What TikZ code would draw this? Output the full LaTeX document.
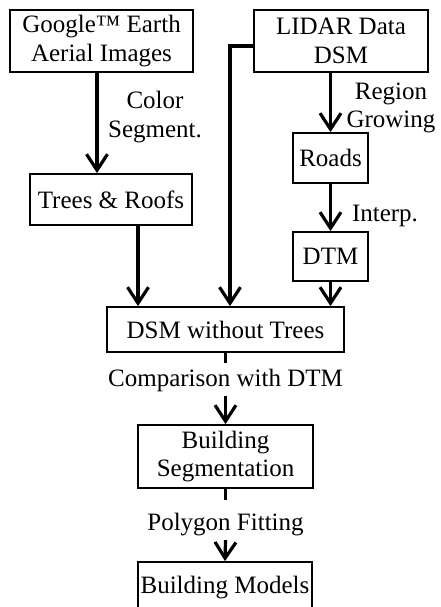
\documentclass[tikz,border=0pt]{standalone}
\usepackage{fontspec}
\setmainfont{Liberation Serif}
\usetikzlibrary{arrows.meta}

\begin{document}
\begin{tikzpicture}[x=1pt, y=-1pt,
    box/.style={draw, line width=1.8pt, inner sep=0pt, align=center,
      font=\fontsize{25}{28.5}\selectfont},
    lbl/.style={align=center, inner sep=0pt, font=\fontsize{25}{28.5}\selectfont},
    arr/.style={line width=3.2pt, -{Straight Barb[length=16pt, width=21pt]}},
    stub/.style={line width=3.2pt}]
    \useasboundingbox (0,0) rectangle (440,607);
    \clip (0,0) rectangle (440,607);

    % sources
    \node[box, minimum width=183pt, minimum height=62pt] (google) at (101.5,41) {Google™ Earth\\Aerial Images};
    \node[box, minimum width=174pt, minimum height=62pt] (lidar) at (341,41) {LIDAR Data\\DSM};

    % intermediate results
    \node[box, minimum width=162pt, minimum height=51pt] (trees) at (111,199.5) {Trees \& Roofs};
    \node[box, minimum width=75pt, minimum height=50pt] (roads) at (330.5,158) {Roads};
    \node[box, minimum width=75pt, minimum height=49pt] (dtm) at (330.5,256.5) {DTM};
    \node[box, minimum width=237pt, minimum height=45pt] (dsmnt) at (225.5,329.5) {DSM without Trees};
    \node[box, minimum width=175pt, minimum height=63pt] (seg) at (225.5,456.5) {Building\\Segmentation};
    \node[box, minimum width=174pt, minimum height=52pt] (models) at (225,588) {Building Models};

    % step labels
    \node[lbl] (color) at (155,117) {Color\\Segment.};
    \node[lbl] (grow) at (391,108) {Region\\Growing};
    \node[lbl] (interp) at (385,216) {Interp.};
    \node[lbl, inner ysep=4pt] (cmp) at (225.5,380) {Comparison with DTM};
    \node[lbl, inner ysep=4pt] (fit) at (225.5,524.5) {Polygon Fitting};

    % connectors
    \draw[arr] (google.south -| 97,0) -- (trees.north -| 97,0);
    \draw[arr] (lidar.south -| roads.north) -- (roads.north);
    \draw[arr] (roads.south) -- (dtm.north);
    \draw[arr] ([yshift=-5pt]lidar.west) -| (dsmnt.north -| 230,0);
    \draw[arr] (trees.south -| 138,0) -- (dsmnt.north -| 138,0);
    \draw[arr] (dtm.south) -- (dsmnt.north -| dtm.south);
    \draw[stub] (dsmnt.south) -- ++(0,10);
    \draw[arr] (cmp.south -| dsmnt.south) -- (seg.north);
    \draw[stub] (seg.south) -- ++(0,11);
    \draw[arr] (fit.south -| seg.south) -- (models.north);
\end{tikzpicture}
\end{document}
